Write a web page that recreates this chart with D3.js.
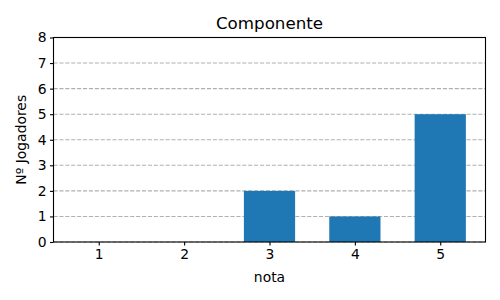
<!DOCTYPE html>
<html>
<head>
<meta charset="utf-8">
<script src="https://cdn.jsdelivr.net/npm/d3@7"></script>
<style>
  body { margin: 0; background: #fff; }
  text { font-family: "DejaVu Sans", sans-serif; fill: #000; }
</style>
</head>
<body>
<div id="chart"></div>
<script>
var notas = [1, 2, 3, 4, 5];
var jogadores = [0, 0, 2, 1, 5];
var yTicks = [0, 1, 2, 3, 4, 5, 6, 7, 8];

var margin = { top: 37.5, right: 14.5, bottom: 58, left: 53.5 },
    width = 500 - margin.left - margin.right,
    height = 300 - margin.top - margin.bottom,
    barWidth = 0.6;

var svg = d3.select("#chart").append("svg")
    .attr("width", 500)
    .attr("height", 300);

var g = svg.append("g")
    .attr("transform", "translate(" + margin.left + "," + margin.top + ")");

var x = d3.scaleLinear().domain([0.47, 5.53]).range([0, width]);
var y = d3.scaleLinear().domain([0, 8]).range([height, 0]);

// grid
g.append("g")
    .selectAll("line")
    .data(yTicks)
    .enter().append("line")
    .attr("x1", 0)
    .attr("x2", width)
    .attr("y1", function(d) { return y(d); })
    .attr("y2", function(d) { return y(d); })
    .attr("stroke", "#b0b0b0")
    .attr("stroke-width", 1.1)
    .attr("stroke-dasharray", "4.1,1.8");

// bars
g.selectAll(".bar")
    .data(notas)
    .enter().append("rect")
    .attr("class", "bar")
    .attr("x", function(d) { return x(d - barWidth / 2); })
    .attr("width", function(d) { return x(d + barWidth / 2) - x(d - barWidth / 2); })
    .attr("y", function(d, i) { return y(jogadores[i]); })
    .attr("height", function(d, i) { return y(0) - y(jogadores[i]); })
    .attr("fill", "#1f77b4");

// axes
var xAxis = d3.axisBottom(x).tickValues(notas).tickFormat(d3.format("d")).tickSizeOuter(0).tickSize(3.5).tickPadding(3.5);
var yAxis = d3.axisLeft(y).tickValues(yTicks).tickFormat(d3.format("d")).tickSizeOuter(0).tickSize(3.5).tickPadding(3.5);

var gx = g.append("g")
    .attr("transform", "translate(0," + height + ")")
    .call(xAxis);
var gy = g.append("g").call(yAxis);

[gx, gy].forEach(function(a) {
    a.select(".domain").remove();
    a.selectAll("line").attr("stroke", "#000").attr("stroke-width", 1.1);
    a.selectAll("text").style("font-size", "13.9px").style("font-family", "DejaVu Sans");
});

// frame
g.append("rect")
    .attr("x", 0).attr("y", 0)
    .attr("width", width).attr("height", height)
    .attr("fill", "none")
    .attr("stroke", "#000")
    .attr("stroke-width", 1.1);

// labels
svg.append("text")
    .attr("x", margin.left + width / 2)
    .attr("y", 29)
    .attr("text-anchor", "middle")
    .style("font-size", "16.7px")
    .text("Componente");

svg.append("text")
    .attr("x", margin.left + width / 2)
    .attr("y", 282)
    .attr("text-anchor", "middle")
    .style("font-size", "13.9px")
    .text("nota");

svg.append("text")
    .attr("transform", "translate(26," + (margin.top + height / 2) + ") rotate(-90)")
    .attr("text-anchor", "middle")
    .style("font-size", "13.9px")
    .text("Nº Jogadores");
</script>
</body>
</html>
